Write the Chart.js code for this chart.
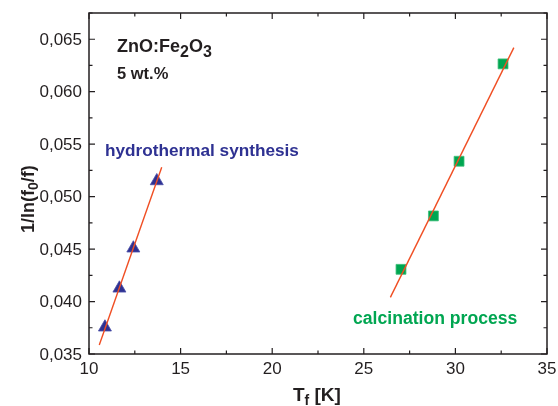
<!DOCTYPE html>
<html>
<head>
<meta charset="utf-8">
<script src="https://cdn.jsdelivr.net/npm/chart.js@4"></script>
<style>
  html, body { margin: 0; padding: 0; background: #fff; }
  #wrap { width: 558px; height: 406px; }
</style>
</head>
<body>
<div id="wrap"><canvas id="tf"></canvas></div>
<script>
// measured points
const hydroT = [10.87, 11.66, 12.42, 13.70];
const hydroY = [0.03755, 0.04126, 0.04508, 0.05149];
const calcT = [27.03, 28.80, 30.20, 32.60];
const calcY = [0.04307, 0.04816, 0.05337, 0.06265];

// linear fits (end points as drawn)
const hydroFitT = [10.56, 13.97];
const hydroFitY = [0.03586, 0.05280];
const calcFitT = [26.45, 33.19];
const calcFitY = [0.04040, 0.06420];

// axes
const xTicks = [10, 15, 20, 25, 30, 35];
const yTicks = [0.035, 0.040, 0.045, 0.050, 0.055, 0.060, 0.065];
const xMin = 10, xMax = 35, yMin = 0.035, yMax = 0.0675;

const ink = '#231f20';
const blue = '#2e3192';
const green = '#00a651';
const fitColor = '#f04e23';
const FONT = '"Liberation Sans", Arial, sans-serif';

const pairs = (xs, ys) => xs.map((x, i) => ({ x: x, y: ys[i] }));

// writes text pieces one after another, each with its own size and shift
function runText(ctx, pieces, x, y) {
    pieces.forEach(([s, size, dy]) => {
        ctx.font = 'bold ' + size + 'px ' + FONT;
        ctx.fillText(s, x, y + dy);
        x += ctx.measureText(s).width;
    });
}

// draws frame, inward ticks, labels and texts
const framePlugin = {
    id: 'frame',
    beforeDatasetsDraw(chart) {
        const { ctx, chartArea: a, scales: { x, y } } = chart;
        ctx.save();
        ctx.strokeStyle = ink;
        ctx.lineWidth = 1.5;
        ctx.strokeRect(a.left, a.top, a.right - a.left, a.bottom - a.top);

        ctx.lineWidth = 1.2;
        ctx.beginPath();
        for (let v = xMin; v <= xMax + 1e-9; v += 2.5) {
            const px = x.getPixelForValue(v);
            const len = Math.abs(v % 5) < 1e-9 ? 6 : 3.5;
            ctx.moveTo(px, a.bottom); ctx.lineTo(px, a.bottom - len);
            ctx.moveTo(px, a.top); ctx.lineTo(px, a.top + len);
        }
        for (let i = 0; yMin + i * 0.0025 <= yMax + 1e-9; i++) {
            const py = y.getPixelForValue(yMin + i * 0.0025);
            const len = i % 2 === 0 ? 6 : 3.5;
            ctx.moveTo(a.left, py); ctx.lineTo(a.left + len, py);
            ctx.moveTo(a.right, py); ctx.lineTo(a.right - len, py);
        }
        ctx.stroke();

        ctx.fillStyle = ink;
        ctx.font = '17px ' + FONT;
        ctx.textAlign = 'center';
        ctx.textBaseline = 'middle';
        xTicks.forEach(v => ctx.fillText(String(v), x.getPixelForValue(v), a.bottom + 15));
        ctx.textAlign = 'right';
        yTicks.forEach(v => ctx.fillText(v.toFixed(3).replace('.', ','), a.left - 7, y.getPixelForValue(v) + 1));

        ctx.textAlign = 'left';
        ctx.textBaseline = 'alphabetic';

        // x title  T_f [K]
        runText(ctx, [['T', 19, 0], ['f', 14, 4], [' [K]', 19, 0]], 293, 401);

        // y title  1/ln(f_0/f)
        ctx.save();
        ctx.translate(34, 233);
        ctx.rotate(-Math.PI / 2);
        runText(ctx, [['1/ln(f', 18, 0], ['0', 14, 4], ['/f)', 18, 0]], 0, 0);
        ctx.restore();

        // sample label
        runText(ctx, [['ZnO:Fe', 18, 0], ['2', 16, 5], ['O', 18, 0], ['3', 16, 5]], 117, 52);
        runText(ctx, [['5 wt.%', 16.5, 0]], 117, 79);

        ctx.fillStyle = blue;
        runText(ctx, [['hydrothermal synthesis', 17.2, 0]], 105, 156);
        ctx.fillStyle = green;
        runText(ctx, [['calcination process', 17.6, 0]], 353, 324);
        ctx.restore();
    }
};

new Chart(document.getElementById('tf'), {
    type: 'scatter',
    data: {
        datasets: [
            {
                label: 'hydrothermal fit',
                data: pairs(hydroFitT, hydroFitY),
                showLine: true,
                borderColor: fitColor,
                borderWidth: 1.4,
                pointRadius: 0
            },
            {
                label: 'calcination fit',
                data: pairs(calcFitT, calcFitY),
                showLine: true,
                borderColor: fitColor,
                borderWidth: 1.4,
                pointRadius: 0
            },
            {
                label: 'hydrothermal synthesis',
                data: pairs(hydroT, hydroY),
                pointStyle: 'triangle',
                pointRadius: 7.5,
                backgroundColor: blue,
                borderColor: '#4a4fa8',
                borderWidth: 0.8
            },
            {
                label: 'calcination process',
                data: pairs(calcT, calcY),
                pointStyle: 'rect',
                pointRadius: 7,
                backgroundColor: green,
                borderColor: '#3cbf7a',
                borderWidth: 0.8
            }
        ]
    },
    options: {
        responsive: true,
        maintainAspectRatio: false,
        animation: false,
        layout: {
            autoPadding: false,
            padding: { left: 89, top: 13, right: 11, bottom: 52 }
        },
        scales: {
            x: { type: 'linear', min: xMin, max: xMax, display: false },
            y: { type: 'linear', min: yMin, max: yMax, display: false }
        },
        plugins: {
            legend: { display: false },
            tooltip: { enabled: false }
        }
    },
    plugins: [framePlugin]
});
</script>
</body>
</html>
